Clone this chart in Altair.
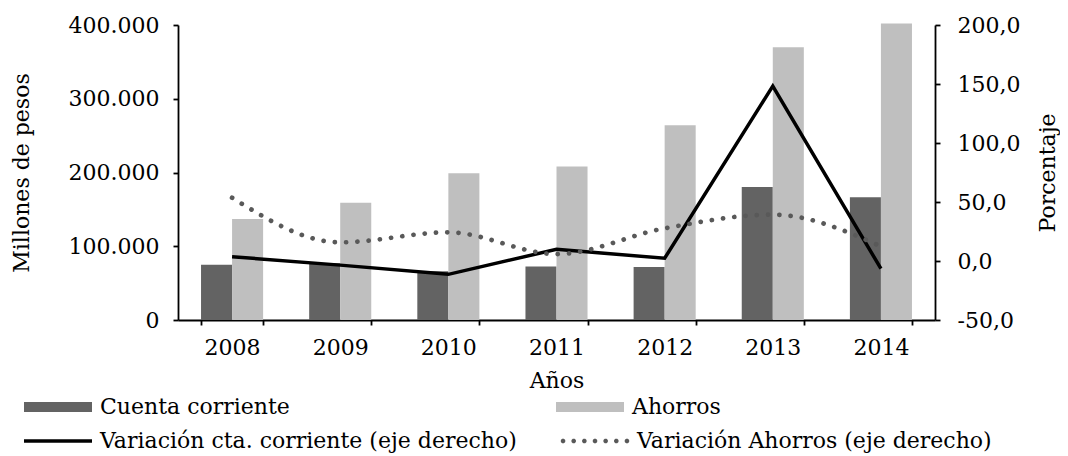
import math
import altair as alt
import pandas as pd

years = ["2008", "2009", "2010", "2011", "2012", "2013", "2014"]
bar_series = ["Cuenta corriente", "Ahorros"]
cuenta = [75000, 77000, 66000, 72500, 72000, 180500, 166500]
ahorros = [137000, 159000, 199000, 208000, 264000, 370000, 402000]
line_series = ["Variación cta. corriente (eje derecho)", "Variación Ahorros (eje derecho)"]
var_cc = [3.6, -3.5, -11.3, 9.9, 2.3, 148.3, -6.5]
var_ah = [53.6, 15.8, 24.3, 5.9, 27.7, 39.3, 12.4]
left_ticks = [0, 100000, 200000, 300000, 400000]
right_ticks = [-50, 0, 50, 100, 150, 200]

FONT = "DejaVu Serif"
FS = 22
DARK = "#636363"
LIGHT = "#bfbfbf"
DOT = "#595959"

bars_df = pd.DataFrame(
    [{"Año": y, "Serie": bar_series[0], "Valor": v} for y, v in zip(years, cuenta)]
    + [{"Año": y, "Serie": bar_series[1], "Valor": v} for y, v in zip(years, ahorros)]
)
lines_df = pd.DataFrame(
    [{"Año": y, "Linea": line_series[0], "Pct": v} for y, v in zip(years, var_cc)]
    + [{"Año": y, "Linea": line_series[1], "Pct": v} for y, v in zip(years, var_ah)]
)

x_enc = alt.X(
    "Año:N",
    sort=years,
    scale=alt.Scale(paddingInner=0.426, paddingOuter=0.213),
    axis=alt.Axis(title="Años", labelAngle=0, tickBand="extent", tickSize=5,
                  labelPadding=12, titlePadding=12),
)

bars = alt.Chart(bars_df).mark_bar().encode(
    x=x_enc,
    xOffset=alt.XOffset("Serie:N", sort=bar_series,
                        scale=alt.Scale(paddingInner=0, paddingOuter=0)),
    y=alt.Y("Valor:Q", stack=None,
            scale=alt.Scale(domain=[0, 400000], nice=False),
            axis=alt.Axis(title="Millones de pesos", values=left_ticks, format=",.0f",
                          tickSize=5, labelPadding=14, titlePadding=35)),
    fill=alt.Fill("Serie:N", sort=bar_series,
                  scale=alt.Scale(domain=bar_series, range=[DARK, LIGHT]),
                  legend=alt.Legend(title=None, orient="none", legendX=-154, legendY=348,
                                    columns=2, columnPadding=266,
                                    symbolType="M-1,-0.15H1V0.15H-1Z", symbolSize=4624,
                                    symbolStrokeWidth=0, labelOffset=8, labelLimit=600)),
)

y_right = alt.Y("Pct:Q", scale=alt.Scale(domain=[-50, 200], nice=False),
                axis=alt.Axis(title="Porcentaje", orient="right", values=right_ticks,
                              format=".1f", tickSize=5, labelPadding=17, titlePadding=40,
                              titleAngle=270))

solid = alt.Chart(lines_df).transform_filter(
    alt.datum.Linea == line_series[0]
).mark_line(color="black", strokeWidth=3.5).encode(x=x_enc, y=y_right)

dotted = alt.Chart(lines_df).transform_filter(
    alt.datum.Linea == line_series[1]
).mark_line(color=DOT, strokeWidth=4.7, strokeDash=[0.1, 11.2], strokeCap="round",
            interpolate="monotone").encode(x=x_enc, y=y_right)

lines = alt.layer(solid, dotted)

# legend symbols for the two lines
solid_path = "M-1,-0.05H1V0.05H-1Z"
def octagon(cx, r):
    pts = []
    for k in range(8):
        a = math.pi / 8 + k * math.pi / 4
        pts.append((cx + r * math.cos(a), r * math.sin(a)))
    return "M" + "L".join(f"{px:.4f},{py:.4f}" for px, py in pts) + "Z"
dots_path = "".join(octagon(-0.94 + k * 0.3133, 0.07) for k in range(7))

leg_lines = alt.Legend(title=None, orient="none", legendX=-154, legendY=382,
                       columns=2, columnPadding=43, symbolSize=4624,
                       symbolStrokeWidth=0, labelOffset=8, labelLimit=600)

legend_layer = alt.Chart(lines_df).transform_filter("false").mark_point(
    filled=True, opacity=1
).encode(
    shape=alt.Shape("Linea:N", sort=line_series,
                    scale=alt.Scale(domain=line_series, range=[solid_path, dots_path]),
                    legend=leg_lines),
    color=alt.Color("Linea:N", sort=line_series,
                    scale=alt.Scale(domain=line_series, range=["black", DOT]),
                    legend=leg_lines),
)

chart = alt.layer(bars, lines, legend_layer).resolve_scale(
    y="independent"
).properties(
    width=757,
    height=295,
    autosize=alt.AutoSizeParams(type="none"),
    padding={"left": 170, "top": 17, "right": 125, "bottom": 134},
).configure(
    locale=alt.Locale(number=alt.NumberLocale(decimal=",", thousands=".", grouping=[3],
                                              currency=["$", ""], minus="-"))
).configure_axis(
    labelFont=FONT, labelFontSize=FS, labelColor="black",
    titleFont=FONT, titleFontSize=FS, titleFontWeight="normal", titleColor="black",
    domainColor="black", domainWidth=1.8, tickColor="black", tickWidth=1.8, grid=False,
).configure_legend(
    labelFont=FONT, labelFontSize=FS, labelColor="black",
).configure_view(stroke=None)

chart.save("out.html", embed_options={"renderer": "svg", "actions": False})
